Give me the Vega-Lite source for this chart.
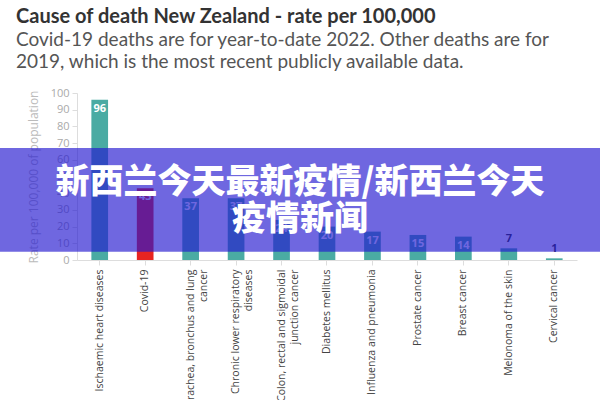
{
  "$schema": "https://vega.github.io/schema/vega-lite/v6.json",
  "autosize": "none",
  "width": 500,
  "height": 167,
  "padding": {"left": 77, "top": 93, "right": 23, "bottom": 140},
  "background": "white",
  "config": {"view": {"stroke": null}, "font": "Open Sans"},
  "title": {
    "text": "Cause of death New Zealand - rate per 100,000",
    "subtitle": ["Covid-19 deaths are for year-to-date 2022. Other deaths are for", "2019, which is the most recent publicly available data."],
    "anchor": "start",
    "frame": "group",
    "dx": -61,
    "offset": 15,
    "font": "Lato",
    "fontSize": 20,
    "fontWeight": "bold",
    "color": "#333333",
    "subtitleFont": "Lato",
    "subtitleFontSize": 19,
    "subtitleColor": "#555555",
    "subtitleLineHeight": 22,
    "subtitlePadding": 4
  },
  "datasets": {
    "causes": [
      {"cause": "Ischaemic heart diseases", "v": 96, "group": "other"},
      {"cause": "Covid-19", "v": 43, "group": "covid"},
      {"cause": "Trachea, bronchus and lung|cancer", "v": 37, "group": "other"},
      {"cause": "Chronic lower respiratory|diseases", "v": 37, "group": "other"},
      {"cause": "Colon, rectal and sigmoidal|junction cancer", "v": 24, "group": "other"},
      {"cause": "Diabetes mellitus", "v": 20, "group": "other"},
      {"cause": "Influenza and pneumonia", "v": 17, "group": "other"},
      {"cause": "Prostate cancer", "v": 15, "group": "other"},
      {"cause": "Breast cancer", "v": 14, "group": "other"},
      {"cause": "Melonoma of the skin", "v": 7, "group": "other"},
      {"cause": "Cervical cancer", "v": 1, "group": "other"}
    ],
    "banner": [{"v": 5, "v2": 67}],
    "bannerText": [
      {"line": "新西兰今天最新疫情/新西兰今天", "v": 46.2},
      {"line": "疫情新闻", "v": 24}
    ]
  },
  "encoding": {
    "x": {
      "field": "cause", "type": "nominal", "sort": null,
      "scale": {"paddingInner": 0.633, "paddingOuter": 0.3165},
      "axis": {
        "title": null,
        "labelAngle": -90,
        "labelExpr": "split(datum.label, '|')",
        "labelFontSize": 10.5,
        "labelColor": "#444444",
        "labelPadding": 4,
        "tickColor": "#dddddd",
        "tickSize": 5,
        "domainColor": "#dddddd",
        "labelLineHeight": 13
      }
    },
    "y": {
      "field": "v", "type": "quantitative",
      "scale": {"domain": [0, 100], "nice": false},
      "axis": {
        "title": "Rate per 100,000 of population",
        "titleFontSize": 12,
        "titleFontWeight": "normal",
        "titleColor": "#bbbbbb",
        "titlePadding": 10,
        "values": [0, 10, 20, 30, 40, 50, 60, 70, 80, 90, 100],
        "labelOverlap": false,
        "labelFlush": false,
        "labelFontSize": 11,
        "labelColor": "#aaaaaa",
        "labelPadding": 3,
        "tickColor": "#dddddd",
        "tickSize": 5,
        "domainColor": "#dddddd",
        "grid": false
      }
    }
  },
  "layer": [
    {
      "data": {"name": "causes"},
      "mark": {"type": "bar"},
      "encoding": {
        "color": {
          "field": "group", "type": "nominal", "legend": null,
          "scale": {"domain": ["other", "covid"], "range": ["#4aaba3", "#e82420"]}
        }
      }
    },
    {
      "data": {"name": "causes"},
      "transform": [{"filter": "datum.v >= 10"}],
      "mark": {"type": "text", "baseline": "middle", "dy": 9, "fontWeight": "bold", "fontSize": 11, "color": "white"},
      "encoding": {
        "text": {"field": "v", "type": "quantitative"}
      }
    },
    {
      "data": {"name": "causes"},
      "transform": [{"filter": "datum.v < 10"}],
      "mark": {"type": "text", "baseline": "middle", "dy": -9, "fontWeight": "bold", "fontSize": 11, "color": "#333333"},
      "encoding": {
        "text": {"field": "v", "type": "quantitative"}
      }
    },
    {
      "data": {"name": "banner"},
      "mark": {"type": "rect", "color": "#2519d0", "opacity": 0.66, "clip": false},
      "encoding": {
        "x": {"value": -77},
        "x2": {"value": 523},
        "y2": {"field": "v2"}
      }
    },
    {
      "data": {"name": "bannerText"},
      "mark": {"type": "text", "font": "Noto Sans CJK SC", "fontWeight": 900, "fontSize": 34, "color": "white", "align": "center", "baseline": "middle"},
      "encoding": {
        "x": {"value": 223},
        "text": {"field": "line"}
      }
    }
  ]
}
